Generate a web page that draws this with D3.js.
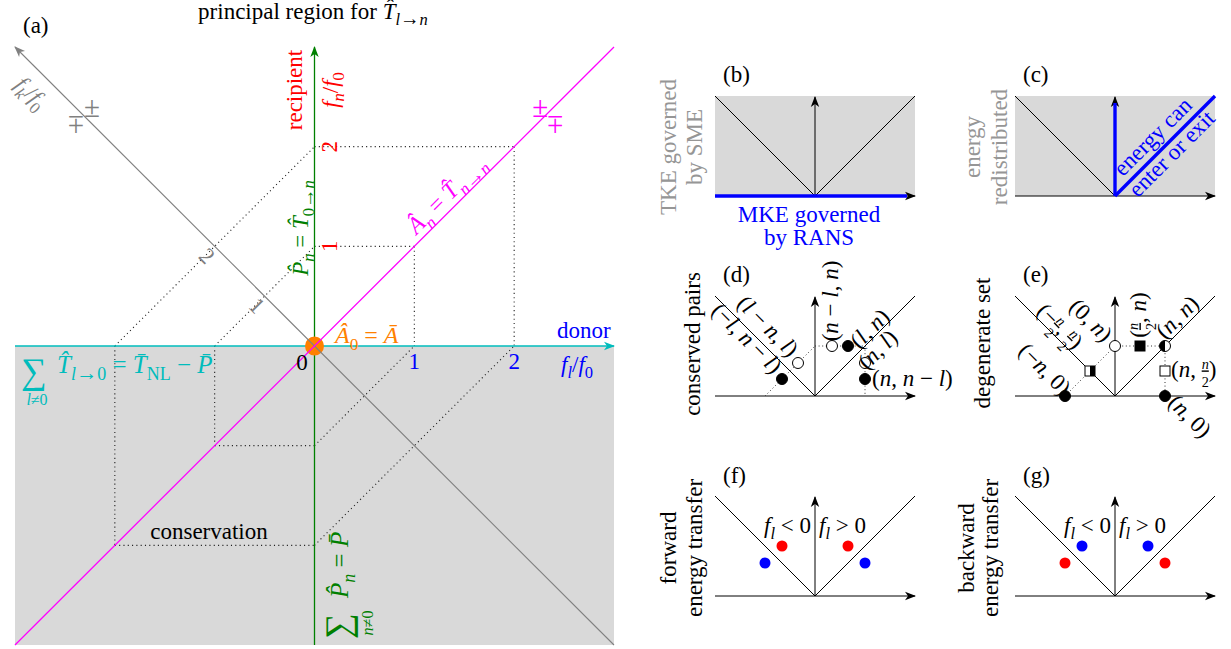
<!DOCTYPE html>
<html><head><meta charset="utf-8">
<script src="https://cdn.jsdelivr.net/npm/d3@7"></script>
<style>
body{margin:0;background:#fff}
text{font-family:"Liberation Serif","DejaVu Serif",serif;font-size:23px}
</style></head><body>
<script>
// ---------------- data ----------------
// panel (a): donor / recipient frequency plane, in multiples of f0
const axisDomain = [-3, 3];
const tickValues = [1, 2];
const constructionLevels = [1, 2];        // dotted conservation construction
const signPositions = { fk: [-2.31, 2.31], an: [2.33, 2.33] };

// schematic panels: modes n and l in units of the panel half-width
const nMode = 0.5, lMode = 0.33;
const conservedPairs = [
  { fl: lMode,          fn: nMode,         filled: true  },  // (l, n)
  { fl: nMode - lMode,  fn: nMode,         filled: false },  // (n-l, n)
  { fl: nMode,          fn: lMode,         filled: false },  // (n, l)
  { fl: nMode,          fn: nMode - lMode, filled: true  },  // (n, n-l)
  { fl: lMode - nMode,  fn: lMode,         filled: false },  // (l-n, l)
  { fl: -lMode,         fn: nMode - lMode, filled: true  }   // (-l, n-l)
];
const degenerateSet = [
  { fl: -nMode,   fn: 0,         shape: "circle", fill: "full" },
  { fl: -nMode/2, fn: nMode/2,   shape: "square", fill: "half" },
  { fl: 0,        fn: nMode,     shape: "circle", fill: "none" },
  { fl: nMode/2,  fn: nMode,     shape: "square", fill: "full" },
  { fl: nMode,    fn: nMode,     shape: "circle", fill: "half" },
  { fl: nMode,    fn: nMode/2,   shape: "square", fill: "none" },
  { fl: nMode,    fn: 0,         shape: "circle", fill: "full" }
];
const forwardTransfer = [
  { fl: -lMode, fn: nMode, role: "gain" }, { fl: -nMode, fn: lMode, role: "loss" },
  { fl:  lMode, fn: nMode, role: "gain" }, { fl:  nMode, fn: lMode, role: "loss" }
];
const backwardTransfer = [
  { fl: -lMode, fn: nMode, role: "loss" }, { fl: -nMode, fn: lMode, role: "gain" },
  { fl:  lMode, fn: nMode, role: "loss" }, { fl:  nMode, fn: lMode, role: "gain" }
];

// ---------------- styles ----------------
const C = {
  shade: "#d9d9d9", magenta: "#ff00ff", grey: "#808080", green: "#008000",
  cyan: "#00bcbc", orange: "#ff8000", red: "#ff0000", blue: "#0000ff",
  lightText: "#969696", black: "#000"
};
const roleColor = { gain: C.red, loss: C.blue };
const FS = 23;
const SERIF = "Liberation Serif, DejaVu Serif, serif";

const svg = d3.select("body").append("svg").attr("width", 1231).attr("height", 649);
const defs = svg.append("defs");
function marker(id, color) {
  defs.append("marker").attr("id", id)
    .attr("viewBox", "-11 -5 12 10").attr("refX", 0).attr("refY", 0)
    .attr("markerWidth", 12).attr("markerHeight", 10)
    .attr("markerUnits", "userSpaceOnUse").attr("orient", "auto")
    .append("path").attr("d", "M1,0 L-10,-4.2 L-7,0 L-10,4.2 Z").attr("fill", color);
}
marker("arBlack", C.black); marker("arGreen", C.green);
marker("arCyan", C.cyan); marker("arGrey", C.grey);

// rich text: parts are [string, flags]; flags: i = italic, s = subscript, u = numerator, d = denominator
function rich(g, parts, o = {}) {
  const size = o.size || FS;
  const t = g.append("text").attr("x", o.x || 0).attr("y", o.y || 0)
    .attr("text-anchor", o.anchor || "start").attr("fill", o.color || C.black)
    .attr("font-family", o.family || SERIF)
    .style("font-size", size + "px");
  let shift = 0;
  parts.forEach(([str, f = ""]) => {
    let target = 0, fs = size, dx = 0;
    if (f.includes("s")) { target = size * 0.28; fs = size * (str.includes("\u2192") ? 0.85 : 0.72); }
    if (f.includes("u")) { target = -size * 0.33; fs = size * 0.62; }
    if (f.includes("d")) { target = size * 0.42; fs = size * 0.62; dx = -fs * 0.5; }
    const ts = t.append("tspan").text(str).style("font-size", fs + "px");
    if (f.includes("i")) ts.style("font-style", "italic");
    if (f.includes("u")) ts.style("text-decoration", "underline");
    if (dx) ts.attr("dx", dx);
    if (target !== shift) { ts.attr("dy", target - shift); shift = target; }
  });
  return t;
}
function at(g, x, y, angle = 0) {
  return g.append("g").attr("transform", `translate(${x},${y}) rotate(${angle})`);
}
// plus-minus sign; the minus-plus variant is the same glyph mirrored vertically
function pm(g, cx, cy, flipped, color) {
  const s = g.append("g").attr("transform", `translate(${cx},${cy}) scale(1,${flipped ? -1 : 1})`);
  rich(s, [["\u00b1"]], { x: 0, y: 9, anchor: "middle", color, size: 29 });
}

// ================= panel (a) =================
const x = d3.scaleLinear().domain(axisDomain).range([15, 614]);
const y = d3.scaleLinear().domain(axisDomain).range([645, 47]);
const line = d3.line().x(d => x(d[0])).y(d => y(d[1]));
const [lo, hi] = axisDomain;
const pa = svg.append("g");

pa.append("rect").attr("x", x(lo)).attr("y", y(0))
  .attr("width", x(hi) - x(lo)).attr("height", y(lo) - y(0)).attr("fill", C.shade);

// dotted construction: projections of (k,k) and their rotated images
const dotted = [];
constructionLevels.forEach(k => {
  dotted.push([[0, k], [k, k]], [[k, k], [k, 0]], [[-k, 0], [0, k]],
              [[-k, 0], [-k, -k]], [[-k, -k], [0, -k]], [[0, -k], [k, 0]]);
});
pa.selectAll("path.dot").data(dotted).join("path").attr("class", "dot")
  .attr("d", line).attr("fill", "none").attr("stroke", "#222")
  .attr("stroke-width", 1.1).attr("stroke-dasharray", "1.1,3.2");

pa.append("path").attr("d", line([[0, lo], [0, hi]])).attr("stroke", C.green)
  .attr("stroke-width", 1.3).attr("marker-end", "url(#arGreen)");
pa.append("path").attr("d", line([[lo, 0], [hi, 0]])).attr("stroke", C.cyan)
  .attr("stroke-width", 1.3).attr("marker-end", "url(#arCyan)");
pa.append("circle").attr("cx", x(0)).attr("cy", y(0)).attr("r", 9.5).attr("fill", C.orange);
pa.append("path").attr("d", line([[hi, lo], [lo, hi]])).attr("stroke", C.grey)
  .attr("stroke-width", 1.1).attr("marker-end", "url(#arGrey)");
pa.append("path").attr("d", line([[lo, lo], [hi, hi]])).attr("stroke", C.magenta)
  .attr("stroke-width", 1.3);

// labels of panel (a)
rich(svg, [["(a)"]], { x: 23, y: 33 });
rich(svg, [["principal region for "], ["T\u0302", "i"], ["l", "is"], ["\u2192", "s"], ["n", "is"]],
  { x: 313, y: 19, anchor: "middle" });
rich(at(pa, 302, 90, -90), [["recipient"]], { anchor: "middle", color: C.red });
rich(at(pa, 338, 90, -90), [["f", "i"], ["n", "is"], ["/"], ["f", "i"], ["0", "s"]],
  { anchor: "middle", color: C.red });
tickValues.forEach(t => {
  rich(at(pa, 337, y(t), -90), [[String(t)]], { anchor: "middle", color: C.red });
  rich(pa, [[String(t)]], { x: x(t), y: 369, anchor: "middle", color: C.blue });
  rich(at(pa, x(-t / 2) - 13, y(t / 2) + 15, 45), [[String(t)]], { anchor: "middle", color: C.grey });
});
rich(pa, [["0"]], { x: 302, y: 370, anchor: "middle" });
rich(at(pa, 308, 228, -90), [["P\u0302", "i"], ["n", "is"], [" = "], ["T\u0302", "i"], ["0", "s"], ["\u2192", "s"], ["n", "is"]],
  { anchor: "middle", color: C.green });
{
  const t = 1.42, px = x(t), py = y(t);
  rich(at(pa, px - 4.5, py - 4.5, -45),
    [["A\u0302", "i"], ["n", "is"], [" = "], ["T\u0302", "i"], ["n", "is"], ["\u2192", "s"], ["n", "is"]],
    { anchor: "middle", color: C.magenta, size: 24 });
}
rich(pa, [["A\u0302", "i"], ["0", "s"], [" = "], ["A\u0304", "i"]], { x: 335, y: 343, color: C.orange, size: 24 });
rich(pa, [["donor"]], { x: 557, y: 338, color: C.blue });
rich(pa, [["f", "i"], ["l", "is"], ["/"], ["f", "i"], ["0", "s"]], { x: 561, y: 372, color: C.blue });
rich(at(pa, 26, 98, 45), [["f", "i"], ["k", "is"], ["/"], ["f", "i"], ["0", "s"]],
  { anchor: "middle", color: C.grey });

// sign marks along the rotated axes
{
  const [gx, gy] = signPositions.fk, [mx, my] = signPositions.an;
  pm(pa, x(gx) + 8, y(gy) - 8, false, C.grey);
  pm(pa, x(gx) - 8, y(gy) + 9, true, C.grey);
  pm(pa, x(mx) - 7, y(my) - 6, false, C.magenta);
  pm(pa, x(mx) + 8, y(my) + 11, true, C.magenta);
}
// sum over donors
rich(pa, [["\u2211"]], { x: 21, y: 383, size: 36, color: C.cyan, family: "DejaVu Serif" });
rich(pa, [["l", "i"], ["\u22600"]], { x: 37, y: 405, size: 16, anchor: "middle", color: C.cyan });
rich(pa, [["T\u0302", "i"], ["l", "is"], ["\u2192", "s"], ["0", "s"], [" = "], ["T\u0304", "i"], ["NL", "s"], [" \u2212 "], ["P\u0304", "i"]],
  { x: 57, y: 373, color: C.cyan, size: 25 });
// sum over recipients (rotated)
{
  const g = at(pa, 348, 641, -90);
  rich(g, [["\u2211"]], { x: 2, y: 2, size: 36, color: C.green, family: "DejaVu Serif" });
  rich(g, [["n", "i"], ["\u22600"]], { x: 18, y: 25, size: 16, anchor: "middle", color: C.green });
  rich(g, [["P\u0302", "i"], ["n", "is"], [" = "], ["P\u0304", "i"]], { x: 43, y: 0, color: C.green, size: 25 });
}
rich(pa, [["conservation"]], { x: 209, y: 539, anchor: "middle" });

// ================= schematic panels (b)-(g) =================
function smallPanel(ox, oy, shaded) {
  const g = svg.append("g");
  const sx = d3.scaleLinear().domain([-1, 1]).range([ox - 100, ox + 100]);
  const sy = d3.scaleLinear().domain([0, 1]).range([oy, oy - 100]);
  const ln = d3.line().x(d => sx(d[0])).y(d => sy(d[1]));
  if (shaded) g.append("rect").attr("x", sx(-1)).attr("y", sy(1))
    .attr("width", sx(1) - sx(-1)).attr("height", sy(0) - sy(1)).attr("fill", C.shade);
  g.append("path").attr("d", ln([[-1, 1], [0, 0], [1, 1]])).attr("fill", "none")
    .attr("stroke", C.black).attr("stroke-width", 1);
  g.append("path").attr("d", ln([[-1, 0], [1, 0]])).attr("stroke", C.black)
    .attr("stroke-width", 1).attr("marker-end", "url(#arBlack)");
  g.append("path").attr("d", ln([[0, 0], [0, 0.99]])).attr("stroke", C.black)
    .attr("stroke-width", 1).attr("marker-end", "url(#arBlack)");
  return { g, sx, sy, ln };
}

// (b)
{
  const p = smallPanel(815, 196, true);
  p.g.append("path").attr("d", p.ln([[-1, 0], [0.92, 0]])).attr("stroke", C.blue).attr("stroke-width", 3.4);
  rich(svg, [["(b)"]], { x: 723, y: 82 });
  rich(at(svg, 676, 147, -90), [["TKE governed"]], { anchor: "middle", color: C.lightText });
  rich(at(svg, 702, 147, -90), [["by SME"]], { anchor: "middle", color: C.lightText });
  rich(svg, [["MKE governed"]], { x: 809, y: 222, anchor: "middle", color: C.blue });
  rich(svg, [["by RANS"]], { x: 809, y: 245, anchor: "middle", color: C.blue });
}
// (c)
{
  const p = smallPanel(1115, 196, true);
  p.g.append("path").attr("d", p.ln([[0, 0], [0, 0.93]])).attr("stroke", C.blue).attr("stroke-width", 3.4);
  p.g.append("path").attr("d", p.ln([[0, 0], [1, 1]])).attr("stroke", C.blue).attr("stroke-width", 3.4);
  rich(svg, [["(c)"]], { x: 1023, y: 82 });
  rich(at(svg, 980, 147, -90), [["energy"]], { anchor: "middle", color: C.lightText });
  rich(at(svg, 1007, 147, -90), [["redistributed"]], { anchor: "middle", color: C.lightText });
  rich(at(svg, 1158, 142, -45), [["energy can"]], { anchor: "middle", color: C.blue });
  rich(at(svg, 1177, 159, -45), [["enter or exit"]], { anchor: "middle", color: C.blue });
}
// (d) conserved pairs
{
  const p = smallPanel(815, 396, false);
  const dl = [[[-nMode, 0], [0, nMode]], [[0, nMode], [nMode, nMode]], [[nMode, nMode], [nMode, 0]]];
  p.g.selectAll("path.dot").data(dl).join("path").attr("d", p.ln).attr("stroke", "#333")
    .attr("stroke-width", 1).attr("stroke-dasharray", "1,2.6");
  p.g.selectAll("circle.pt").data(conservedPairs).join("circle")
    .attr("cx", d => p.sx(d.fl)).attr("cy", d => p.sy(d.fn)).attr("r", 5.5)
    .attr("fill", d => d.filled ? C.black : "#fff").attr("stroke", C.black).attr("stroke-width", 1);
  rich(svg, [["(d)"]], { x: 723, y: 282 });
  rich(at(svg, 700, 344, -90), [["conserved pairs"]], { anchor: "middle" });
  rich(at(svg, 838, 301, -90), [["("], ["n", "i"], [" \u2212 "], ["l", "i"], [", "], ["n", "i"], [")"]], { anchor: "middle" });
  rich(at(svg, 875, 334, -45), [["("], ["l", "i"], [", "], ["n", "i"], [")"]], { anchor: "middle" });
  rich(at(svg, 883, 355, -45), [["("], ["n", "i"], [", "], ["l", "i"], [")"]], { anchor: "middle" });
  rich(svg, [["("], ["n", "i"], [", "], ["n", "i"], [" \u2212 "], ["l", "i"], [")"]], { x: 872, y: 386 });
  rich(at(svg, 762.5, 331.5, 45), [["("], ["l", "i"], [" \u2212 "], ["n", "i"], [", "], ["l", "i"], [")"]], { anchor: "middle" });
  rich(at(svg, 741.5, 343.5, 45), [["(\u2212"], ["l", "i"], [", "], ["n", "i"], [" \u2212 "], ["l", "i"], [")"]], { anchor: "middle" });
}
// (e) degenerate set
{
  const p = smallPanel(1115, 396, false);
  const dl = [[[-nMode, 0], [0, nMode]], [[0, nMode], [nMode, nMode]], [[nMode, nMode], [nMode, 0]]];
  p.g.selectAll("path.dot").data(dl).join("path").attr("d", p.ln).attr("stroke", "#333")
    .attr("stroke-width", 1).attr("stroke-dasharray", "1,2.6");
  degenerateSet.forEach(d => {
    const cx = p.sx(d.fl), cy = p.sy(d.fn);
    const fillC = d.fill === "full" ? C.black : "#fff";
    if (d.shape === "circle") {
      p.g.append("circle").attr("cx", cx).attr("cy", cy).attr("r", 5.5).attr("fill", fillC);
      if (d.fill === "half") p.g.append("path")
        .attr("d", `M${cx},${cy - 5.5} A5.5,5.5 0 0 0 ${cx},${cy + 5.5} Z`).attr("fill", C.black);
      p.g.append("circle").attr("cx", cx).attr("cy", cy).attr("r", 5.5).attr("fill", "none").attr("stroke", C.black);
    } else {
      p.g.append("rect").attr("x", cx - 5).attr("y", cy - 5).attr("width", 10).attr("height", 10).attr("fill", fillC);
      if (d.fill === "half") p.g.append("rect").attr("x", cx).attr("y", cy - 5).attr("width", 5).attr("height", 10).attr("fill", C.black);
      p.g.append("rect").attr("x", cx - 5).attr("y", cy - 5).attr("width", 10).attr("height", 10)
        .attr("fill", "none").attr("stroke", C.black);
    }
  });
  rich(svg, [["(e)"]], { x: 1023, y: 282 });
  rich(at(svg, 990, 343, -90), [["degenerate set"]], { anchor: "middle" });
  rich(at(svg, 1039.5, 374.5, 45), [["(\u2212"], ["n", "i"], [", 0)"]], { anchor: "middle" });
  rich(at(svg, 1054.5, 331.5, 45), [["(\u2212"], ["n", "iu"], ["2", "d"], [", "], ["n", "iu"], ["2", "d"], [")"]], { anchor: "middle" });
  rich(at(svg, 1085.5, 325.5, 45), [["(0, "], ["n", "i"], [")"]], { anchor: "middle" });
  rich(at(svg, 1146, 315, -90), [["("], ["n", "iu"], ["2", "d"], [", "], ["n", "i"], [")"]], { anchor: "middle" });
  rich(at(svg, 1182.5, 322.5, -45), [["("], ["n", "i"], [", "], ["n", "i"], [")"]], { anchor: "middle" });
  rich(svg, [["("], ["n", "i"], [", "], ["n", "iu"], ["2", "d"], [")"]], { x: 1171, y: 377 });
  rich(at(svg, 1184.5, 421.5, 45), [["("], ["n", "i"], [", 0)"]], { anchor: "middle" });
}
// (f) and (g) transfer direction
function transferPanel(ox, oy, pts, tag, w1, w2, bx1, bx2) {
  const p = smallPanel(ox, oy, false);
  p.g.selectAll("circle.pt").data(pts).join("circle")
    .attr("cx", d => p.sx(d.fl)).attr("cy", d => p.sy(d.fn)).attr("r", 5.5)
    .attr("fill", d => roleColor[d.role]);
  rich(svg, [[tag]], { x: ox - 92, y: oy - 113 });
  rich(svg, [["f", "i"], ["l", "is"], [" < 0"]], { x: ox - 4, y: oy - 63, anchor: "end" });
  rich(svg, [["f", "i"], ["l", "is"], [" > 0"]], { x: ox + 4, y: oy - 63 });
  rich(at(svg, bx1, oy - 48, -90), [[w1]], { anchor: "middle" });
  rich(at(svg, bx2, oy - 48, -90), [[w2]], { anchor: "middle" });
}
transferPanel(815, 596, forwardTransfer, "(f)", "forward", "energy transfer", 676, 702);
transferPanel(1115, 596, backwardTransfer, "(g)", "backward", "energy transfer", 974, 998);
</script></body></html>
